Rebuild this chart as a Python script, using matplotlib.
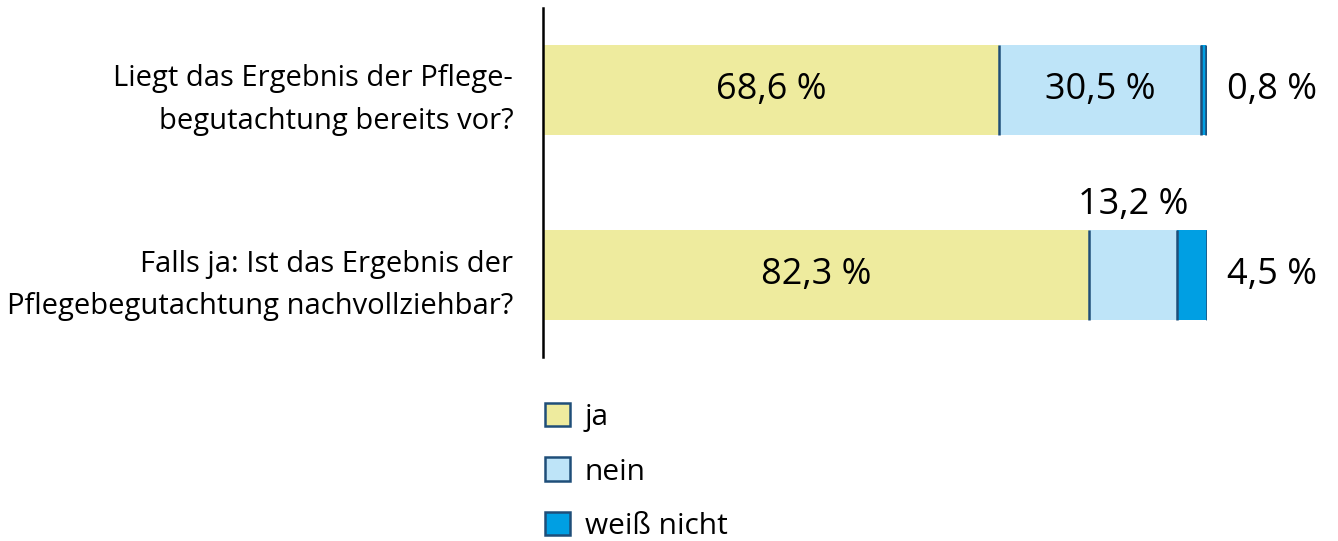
import numpy as np
import matplotlib
matplotlib.use("Agg")
import matplotlib.pyplot as plt
from matplotlib.patches import Patch

# data
questions = ["Liegt das Ergebnis der Pflege-\nbegutachtung bereits vor?",
             "Falls ja: Ist das Ergebnis der\nPflegebegutachtung nachvollziehbar?"]
series = ["ja", "nein", "weiß nicht"]
ja = [68.6, 82.3]
nein = [30.5, 13.2]
weiss_nicht = [0.8, 4.5]
colors = ["#EEEB9E", "#BEE4F8", "#009FE3"]
edge = "#1F4E79"

plt.rcParams["font.family"] = ["Open Sans", "DejaVu Sans"]

fig = plt.figure(figsize=(13.38, 5.41), dpi=100)
ax = fig.add_axes([543 / 1338, 1 - 357 / 541, 664 / 1338, 349 / 541])

y = np.arange(len(questions))
vals = np.array([ja, nein, weiss_nicht])
left = np.zeros(len(questions))
for v, c in zip(vals, colors):
    ax.barh(y, v, left=left, height=0.486, color=c, edgecolor="none")
    left = left + v
    # thin dark divider at the right edge of each segment
    ax.vlines(left, y - 0.243, y + 0.243, color=edge, lw=1.8)

ax.set_xlim(0, 100)
ax.set_ylim(1.443, -0.443)
for s in ["top", "right", "bottom"]:
    ax.spines[s].set_visible(False)
ax.spines["left"].set_linewidth(1.8)
ax.set_xticks([])
ax.set_yticks(y)
ax.set_yticklabels(questions, fontsize=21, linespacing=1.6)
ax.tick_params(axis="y", length=0, pad=21.5)
for lab in ax.get_yticklabels():
    lab.set_ha("right")

def fmt(v):
    return f"{v:.1f} %".replace(".", ",")

fs = 26
# bar 1
ax.text(ja[0] / 2, 0, fmt(ja[0]), ha="center", va="center", fontsize=fs)
ax.text(ja[0] + nein[0] / 2, 0, fmt(nein[0]), ha="center", va="center", fontsize=fs)
ax.text(103, 0, fmt(weiss_nicht[0]), ha="left", va="center", fontsize=fs)
# bar 2
ax.text(ja[1] / 2, 1, fmt(ja[1]), ha="center", va="center", fontsize=fs)
ax.text(ja[1] + nein[1] / 2, 0.62, fmt(nein[1]), ha="center", va="center", fontsize=fs)
ax.text(103, 1, fmt(weiss_nicht[1]), ha="left", va="center", fontsize=fs)

handles = [Patch(facecolor=c, edgecolor=edge, lw=1.8, label=s)
           for c, s in zip(colors, series)]
fig.legend(handles=handles, loc="upper left",
           bbox_to_anchor=(545 / 1338, 1 - 403 / 541), frameon=False,
           borderaxespad=0, borderpad=0,
           fontsize=21.5, handlelength=0.83, handleheight=0.83,
           handletextpad=0.5, labelspacing=0.85)

fig.savefig("out.png", dpi=100)
